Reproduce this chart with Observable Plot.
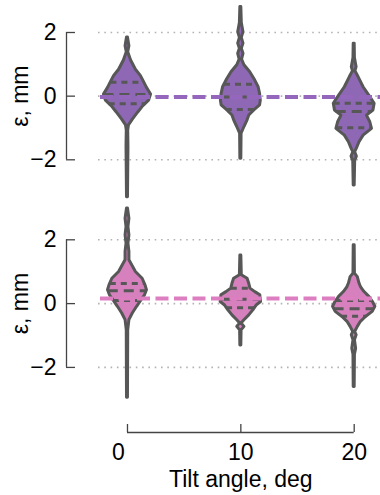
<!DOCTYPE html>
<html><head><meta charset="utf-8">
<script src="https://cdn.jsdelivr.net/npm/d3@7"></script>
<script src="https://cdn.jsdelivr.net/npm/@observablehq/plot@0.6"></script>
<style>
html,body{margin:0;padding:0;background:#fff;}
#chart{width:380px;}
#chart svg{display:block;}
</style></head><body><div id="chart"></div>
<script>
// ---- data ----
const tiltAngles = [0, 10, 20];
const yTicks = [-2, 0, 2];
const xLabel = "Tilt angle, deg";
const yLabel = "ε, mm";

// violin profiles: [ε value, relative density]
const topProfile0 = [[1.84,0.02],[1.57,0.08],[1.38,0.03],[1.12,0.15],[0.83,0.35],[0.63,0.56],[0.44,0.69],[0.26,0.81],[0.05,0.98],[-0.14,0.90],[-0.32,0.65],[-0.52,0.44],[-0.73,0.23],[-0.92,0.06],[-1.08,0.03],[-1.6,0.04],[-3.18,0.02]];
const topProfile10 = [[2.80,0.02],[2.3,0.04],[2.01,0.11],[1.83,0.04],[1.65,0.11],[1.49,0.04],[1.33,0.11],[1.15,0.05],[0.97,0.15],[0.75,0.39],[0.49,0.60],[0.28,0.74],[0.07,0.80],[-0.14,0.83],[-0.29,0.80],[-0.45,0.56],[-0.61,0.35],[-0.76,0.28],[-0.97,0.15],[-1.18,0.03],[-1.97,0.02]];
const topProfile20 = [[1.65,0.02],[1.2,0.03],[0.91,0.10],[0.78,0.05],[0.60,0.18],[0.28,0.39],[-0.03,0.67],[-0.24,0.85],[-0.45,0.80],[-0.61,0.53],[-0.82,0.67],[-1.03,0.74],[-1.24,0.39],[-1.45,0.22],[-1.65,0.11],[-1.76,0.04],[-1.90,0.11],[-2.04,0.04],[-2.81,0.02]];
const bottomProfile0 = [[2.98,0.02],[2.66,0.08],[2.40,0.04],[2.14,0.08],[1.88,0.04],[1.62,0.08],[1.36,0.08],[0.99,0.35],[0.78,0.63],[0.57,0.75],[0.42,0.81],[0.26,0.73],[0.10,0.58],[-0.10,0.40],[-0.31,0.22],[-0.52,0.08],[-0.84,0.03],[-2.95,0.02]];
const bottomProfile10 = [[1.51,0.02],[0.89,0.04],[0.78,0.28],[0.62,0.35],[0.47,0.40],[0.36,0.60],[0.26,0.81],[0.16,0.82],[0.05,0.84],[-0.05,0.67],[-0.21,0.52],[-0.37,0.35],[-0.52,0.15],[-0.62,0.03],[-0.73,0.15],[-0.84,0.03],[-1.31,0.02]];
const bottomProfile20 = [[1.83,0.02],[0.94,0.03],[0.83,0.15],[0.63,0.22],[0.52,0.28],[0.37,0.42],[0.21,0.63],[0.05,0.78],[-0.10,0.88],[-0.26,0.77],[-0.42,0.49],[-0.57,0.28],[-0.73,0.15],[-0.89,0.04],[-0.99,0.10],[-1.15,0.03],[-1.41,0.08],[-1.60,0.03],[-2.61,0.02]];

// quartiles [q1, median, q3]
const topQuartiles = [[-0.24, 0.05, 0.44], [-0.42, -0.03, 0.37], [-0.99, -0.48, -0.22]];
const bottomQuartiles = [[0.10, 0.40, 0.63], [-0.13, 0.14, 0.48], [-0.40, -0.16, 0.10]];
const topMean = -0.03;
const bottomMean = 0.16;

// ---- chart ----
const W = 2.12;               // half width (x units) for density 1
const xDomain = [-5.38, 22.32];
const outline = "#575757";
const font = "Liberation Sans, Arial, sans-serif";
const fs = 23;
const fmt = d3.format("d");

function violinRows(profiles) {
  return profiles.flatMap((p, i) => p.map(([y, d]) => ({cat: tiltAngles[i], y, d})));
}
function quartileRows(profiles, quartiles) {
  return quartiles.flatMap((qs, i) => {
    const dens = d3.scaleLinear(profiles[i].map(p => p[0]), profiles[i].map(p => p[1]));
    return qs.map((q, j) => ({cat: tiltAngles[i], y: q, d: dens(q), median: j === 1}));
  });
}

function panel({profiles, quartiles, mean, fill, lineColor, height, marginTop, marginBottom, yDomain, xAxis}) {
  const rows = violinRows(profiles);
  const qrows = quartileRows(profiles, quartiles);
  const marks = [
    Plot.gridY(yTicks, {insetLeft: 32, stroke: "#b3b3b3", strokeOpacity: 1, strokeWidth: 1.6, strokeDasharray: "1.6,4.7"}),
    Plot.areaX(rows, {y: "y", x1: d => d.cat - d.d * W, x2: d => d.cat + d.d * W, z: "cat", fill, stroke: outline, strokeWidth: 3, strokeLinejoin: "round"}),
    Plot.ruleY(qrows.filter(d => !d.median), {y: "y", x1: d => d.cat - d.d * W, x2: d => d.cat + d.d * W, stroke: outline, strokeWidth: 3, strokeDasharray: "6,5"}),
    Plot.ruleY(qrows.filter(d => d.median), {y: "y", x1: d => d.cat - d.d * W, x2: d => d.cat + d.d * W, stroke: outline, strokeWidth: 3, strokeDasharray: "10,6"}),
    Plot.ruleY([mean], {insetLeft: 34, stroke: lineColor, strokeWidth: 4, strokeDasharray: "13,5.5"}),
    Plot.ruleX([xDomain[0]], {y1: yTicks[0], y2: yTicks[yTicks.length - 1], stroke: "#444", strokeWidth: 1.3}),
    Plot.axisY({ticks: yTicks, tickSize: -9, tickFormat: () => "", label: null, stroke: "#444", strokeWidth: 1.3}),
    Plot.axisY({ticks: yTicks, tickSize: 0, tickPadding: 10, tickFormat: fmt, label: null, fontSize: fs, fill: "#000"}),
    Plot.text([yLabel], {x: xDomain[0], y: 0, rotate: -90, dx: -46, fontSize: fs, fill: "#000"})
  ];
  if (xAxis) {
    marks.push(
      Plot.ruleY([yDomain[0]], {x1: tiltAngles[0], x2: tiltAngles[tiltAngles.length - 1], stroke: "#444", strokeWidth: 1.3}),
      Plot.axisX({ticks: tiltAngles, tickSize: -8, tickFormat: () => "", label: null, stroke: "#444", strokeWidth: 1.3}),
      Plot.axisX({ticks: tiltAngles.slice(1), tickSize: 0, tickPadding: 11, tickFormat: fmt, label: null, fontSize: fs, fill: "#000"}),
      Plot.axisX({ticks: tiltAngles.slice(0, 1), tickSize: 0, tickPadding: 11, tickFormat: fmt, label: null, dx: -9, fontSize: fs, fill: "#000"}),
      Plot.text([xLabel], {x: tiltAngles[1], frameAnchor: "bottom", lineAnchor: "top", dy: 38, fontSize: fs, fill: "#000"})
    );
  }
  return Plot.plot({
    width: 380, height, marginTop, marginBottom, marginLeft: 66, marginRight: 0,
    x: {domain: xDomain, axis: null},
    y: {domain: yDomain, axis: null},
    style: {fontFamily: font, fontSize: fs + "px", background: "#fff", overflow: "visible"},
    marks
  });
}

const chart = document.getElementById("chart");
chart.append(panel({
  profiles: [topProfile0, topProfile10, topProfile20],
  quartiles: topQuartiles, mean: topMean,
  fill: "#8e67b5", lineColor: "#9467bd",
  height: 205, marginTop: 32, marginBottom: 45.7, yDomain: [-2, 2], xAxis: false
}));
chart.append(panel({
  profiles: [bottomProfile0, bottomProfile10, bottomProfile20],
  quartiles: bottomQuartiles, mean: bottomMean,
  fill: "#d680be", lineColor: "#dc7ec0",
  height: 290, marginTop: 34.3, marginBottom: 63, yDomain: [-4.04, 2], xAxis: true
}));
</script></body></html>
